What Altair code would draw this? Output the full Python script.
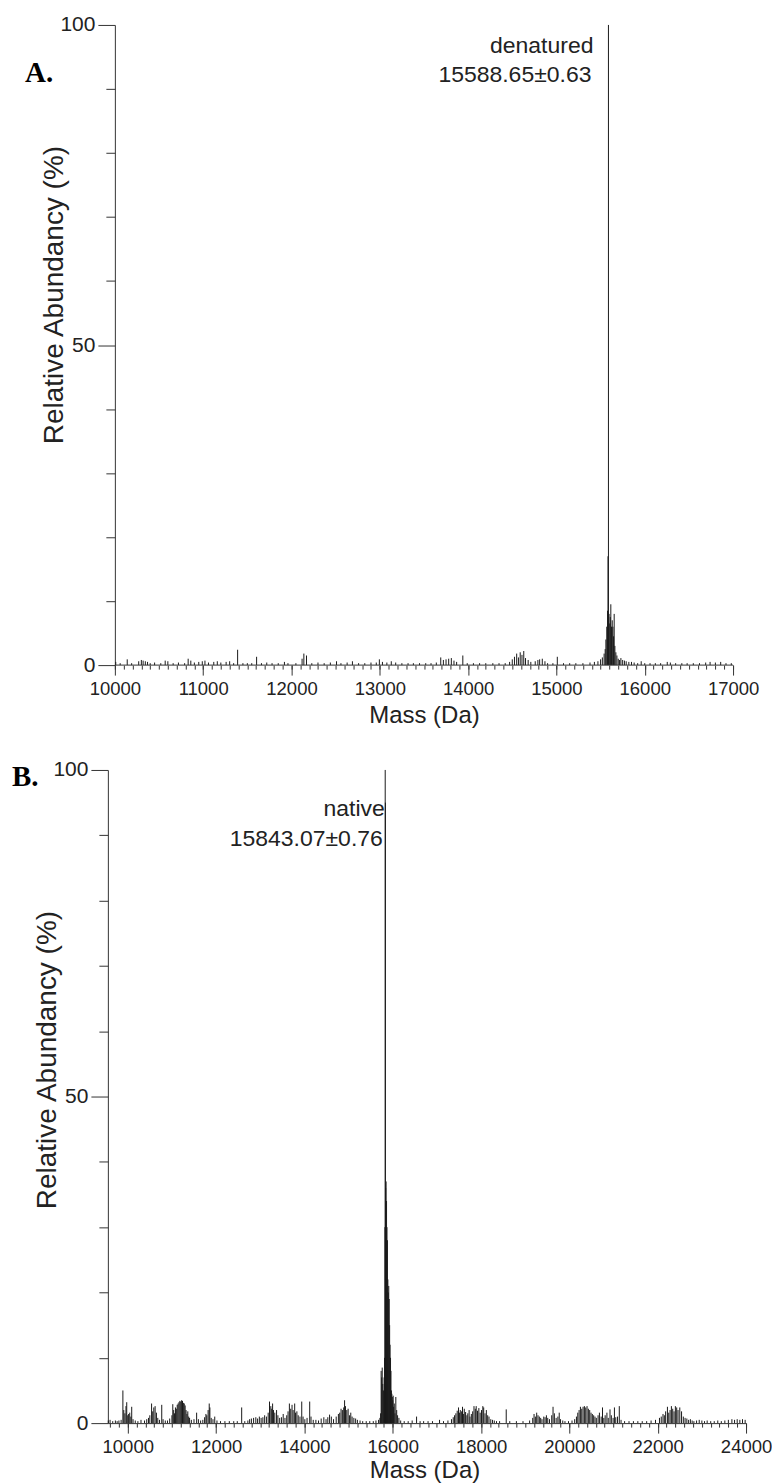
import altair as alt
import pandas as pd

# ---------------- data ----------------
A_MASS = [10010, 10060, 10140, 10190, 10270, 10300, 10320, 10345, 10370, 10400, 10450, 10520, 10570,
          10600, 10660, 10720, 10790, 10830, 10860, 10900, 10950, 10990, 11020, 11060, 11120, 11160,
          11200, 11260, 11300, 11345, 11390, 11450, 11500, 11550, 11605, 11660, 11720, 11780, 11850,
          11920, 11960, 12050, 12120, 12140, 12170, 12230, 12300, 12370, 12440, 12510, 12560, 12630,
          12690, 12760, 12830, 12900, 12960, 12995, 13030, 13080, 13130, 13180, 13250, 13320, 13380,
          13450, 13520, 13580, 13640, 13690, 13720, 13750, 13780, 13810, 13840, 13870, 13940, 13990,
          14060, 14130, 14200, 14280, 14350, 14420, 14470, 14500, 14525, 14550, 14570, 14590, 14610,
          14630, 14650, 14680, 14710, 14760, 14790, 14810, 14840, 14870, 14900, 14960, 15010, 15080,
          15150, 15220, 15300, 15380, 15430, 15470, 15500, 15520, 15540, 15552, 15560, 15570, 15579,
          15584, 15589, 15596, 15604, 15610, 15616, 15624, 15632, 15640, 15647, 15654, 15662, 15673,
          15685, 15700, 15715, 15730, 15750, 15770, 15790, 15820, 15850, 15880, 15920, 15960, 16000,
          16060, 16120, 16180, 16255, 16290, 16350, 16420, 16480, 16550, 16620, 16690, 16740, 16800,
          16860, 16920, 16980]
A_ABUND = [0.5, 0.3, 0.9, 0.3, 0.6, 0.8, 0.7, 0.6, 0.5, 0.3, 0.4, 0.3, 0.7,
           0.6, 0.3, 0.4, 0.3, 1.0, 0.7, 0.4, 0.5, 0.6, 0.7, 0.4, 0.5, 0.6,
           0.4, 0.5, 0.6, 0.3, 2.4, 0.3, 0.3, 0.3, 1.3, 0.3, 0.4, 0.3, 0.3,
           0.5, 0.3, 0.3, 1.0, 1.8, 1.5, 0.3, 0.4, 0.3, 0.4, 0.6, 0.3, 0.4,
           0.6, 0.3, 0.3, 0.4, 0.4, 0.9, 0.5, 0.4, 0.6, 0.4, 0.3, 0.3, 0.3,
           0.3, 0.3, 0.3, 0.4, 1.2, 0.8, 0.9, 1.0, 1.1, 0.7, 0.5, 1.5, 0.3,
           0.3, 0.3, 0.3, 0.3, 0.3, 0.3, 0.5, 0.9, 1.3, 1.8, 1.2, 2.0, 1.6,
           2.2, 1.1, 0.8, 0.5, 0.6, 0.8, 0.9, 1.0, 0.6, 0.3, 0.3, 1.3, 0.3,
           0.3, 0.3, 0.3, 0.4, 0.5, 0.6, 0.9, 1.2, 1.8, 2.5, 4.0, 6.0, 8.5,
           17.0, 100.0, 8.0, 6.5, 7.5, 9.5, 6.0, 7.0, 6.0, 4.5, 8.0, 3.0, 2.0,
           1.5, 1.0, 0.8, 1.1, 0.8, 0.7, 0.6, 0.5, 0.5, 0.4, 0.3, 0.6, 0.3,
           0.3, 0.3, 0.3, 0.5, 0.4, 0.3, 0.3, 0.3, 0.3, 0.3, 0.4, 0.5, 0.4,
           0.5, 0.3, 0.3]

B_MASS = [9560, 9600, 9660, 9720, 9760, 9800, 9850, 9890, 9910, 9935, 9960, 9977, 10000, 10020, 10045,
          10070, 10090, 10120, 10170, 10230, 10300, 10380, 10430, 10470, 10500, 10540, 10565, 10590,
          10620, 10650, 10680, 10720, 10770, 10800, 10850, 10900, 10950, 11000, 11020, 11040, 11060,
          11080, 11100, 11120, 11140, 11160, 11180, 11200, 11220, 11240, 11260, 11280, 11300, 11320,
          11340, 11360, 11380, 11400, 11440, 11500, 11560, 11600, 11650, 11700, 11740, 11770, 11790,
          11820, 11845, 11860, 11890, 11930, 11970, 12020, 12100, 12200, 12300, 12400, 12480, 12580,
          12650, 12720, 12760, 12800, 12850, 12900, 12940, 12980, 13020, 13060, 13100, 13140, 13180,
          13210, 13240, 13260, 13280, 13300, 13330, 13370, 13400, 13440, 13480, 13520, 13560, 13600,
          13630, 13660, 13690, 13720, 13745, 13780, 13800, 13830, 13860, 13900, 13940, 13970, 14010,
          14060, 14120, 14150, 14200, 14260, 14320, 14380, 14440, 14490, 14530, 14570, 14610, 14660,
          14720, 14770, 14800, 14830, 14860, 14890, 14910, 14930, 14960, 14990, 15020, 15050, 15080,
          15120, 15160, 15200, 15260, 15320, 15400, 15480, 15560, 15620, 15680, 15710, 15725, 15738,
          15750, 15762, 15775, 15790, 15805, 15815, 15824, 15830, 15834, 15840, 15850, 15860, 15870,
          15880, 15890, 15900, 15910, 15920, 15930, 15940, 15950, 15960, 15970, 15980, 15990, 16000,
          16010, 16020, 16035, 16050, 16070, 16090, 16110, 16140, 16180, 16260, 16350, 16440,
          16540, 16620, 16700, 16800, 16900, 17060, 17150, 17250, 17330, 17370, 17400, 17430, 17460,
          17490, 17510, 17530, 17560, 17580, 17600, 17620, 17650, 17680, 17700, 17730, 17750, 17780,
          17810, 17840, 17870, 17890, 17920, 17950, 17980, 18010, 18040, 18060, 18090, 18120, 18150,
          18180, 18220, 18260, 18300, 18350, 18420, 18570, 18650, 18800, 18950, 19100, 19170, 19200,
          19230, 19260, 19290, 19320, 19350, 19380, 19420, 19450, 19480, 19510, 19550, 19600, 19630,
          19660, 19700, 19740, 19770, 19800, 19850, 19900, 19980, 20060, 20120, 20160, 20190, 20220,
          20250, 20280, 20310, 20340, 20370, 20400, 20430, 20460, 20490, 20520, 20550, 20580, 20610,
          20650, 20680, 20720, 20750, 20780, 20810, 20850, 20880, 20920, 20950, 20990, 21020, 21050,
          21090, 21130, 21170, 21250, 21350, 21450, 21550, 21650, 21750, 21850, 21950, 22040, 22080,
          22120, 22150, 22180, 22220, 22250, 22280, 22310, 22340, 22370, 22400, 22430, 22460, 22500,
          22540, 22580, 22620, 22660, 22700, 22740, 22780, 22820, 22880, 22940, 23000, 23060, 23120,
          23200, 23280, 23360, 23440, 23520, 23600, 23680, 23740, 23800, 23860, 23920, 23980]
B_ABUND = [0.4, 0.5, 0.3, 0.4, 0.3, 0.4, 0.5, 5.0, 2.0, 1.5, 2.6, 3.2, 1.2, 1.4, 1.6,
           1.0, 2.5, 0.6, 0.4, 0.3, 0.5, 0.4, 0.6, 0.8, 1.2, 3.0, 1.8, 2.4,
           2.6, 1.6, 0.8, 0.5, 2.8, 0.6, 0.4, 0.4, 0.7, 1.2, 2.9, 2.0, 1.5,
           2.4, 2.2, 2.8, 3.0, 3.2, 3.4, 3.3, 3.5, 3.4, 3.1, 3.0, 2.7, 2.0,
           1.4, 1.8, 1.0, 0.8, 0.5, 0.6, 1.6, 0.6, 0.4, 0.5, 0.9, 1.4, 1.2,
           2.0, 3.0, 2.4, 0.8, 0.6, 1.0, 0.4, 0.3, 0.3, 0.3, 0.3, 0.3, 2.4,
           0.3, 0.4, 0.6, 0.7, 0.8, 0.9, 0.7, 1.0, 0.8, 0.9, 1.2, 1.0, 1.6,
           3.3, 2.6, 2.2, 3.0, 2.0, 1.6, 2.0, 1.2, 0.8, 0.9, 1.4, 0.8, 1.2,
           1.8, 3.0, 2.2, 2.8, 2.0, 3.0, 1.6, 1.8, 1.2, 1.0, 3.3, 1.0, 0.6,
           0.8, 3.3, 1.0, 0.5, 0.5, 0.4, 0.7, 0.9, 0.6, 0.9, 1.3, 1.0, 0.6,
           1.0, 1.4, 1.6, 2.2, 2.0, 2.4, 3.5, 2.6, 2.0, 2.2, 1.2, 1.6, 1.0,
           0.8, 0.7, 0.5, 0.4, 0.3, 0.3, 0.3, 0.3, 0.4, 0.5, 0.8, 1.5, 8.0,
           7.0, 8.5, 6.0, 5.0, 7.0, 10.0, 30.0, 100.0, 95.0, 36.0, 37.0, 34.0, 30.0,
           28.0, 22.0, 20.0, 21.0, 19.0, 15.0, 12.0, 10.0, 8.0, 5.0, 4.5, 4.0, 3.5,
           4.2, 2.5, 3.0, 1.5, 4.0, 2.0, 1.2, 0.8, 0.4, 0.3, 0.3, 0.4,
           1.0, 0.3, 0.3, 0.3, 0.3, 0.5, 0.3, 0.4, 0.6, 0.9, 1.2, 1.5, 1.9,
           2.4, 1.6, 2.0, 1.8, 2.5, 1.4, 2.2, 1.7, 1.2, 1.5, 2.0, 1.0, 1.4,
           1.8, 2.6, 2.2, 2.6, 1.9, 2.3, 1.6, 2.0, 2.6, 2.4, 1.5, 2.0, 1.2,
           1.0, 0.6, 0.5, 0.4, 0.3, 0.3, 2.1, 0.3, 0.3, 0.3, 0.4, 0.8, 1.4,
           1.0, 1.6, 1.2, 1.0, 0.8, 0.6, 1.0, 0.9, 1.2, 0.8, 0.6, 1.2, 2.5,
           1.5, 0.8, 1.0, 1.6, 0.6, 0.4, 0.3, 0.3, 0.4, 0.6, 1.0, 1.6, 2.0,
           2.5, 2.2, 2.5, 2.6, 2.4, 2.6, 2.2, 2.0, 1.6, 1.4, 1.2, 1.0, 0.8,
           1.2, 1.6, 1.0, 2.4, 0.8, 1.2, 1.6, 0.8, 2.1, 1.2, 0.8, 2.4, 0.9,
           1.0, 2.6, 0.5, 0.3, 0.3, 0.3, 0.3, 0.3, 0.3, 0.4, 0.5, 0.8, 1.0,
           1.4, 1.2, 1.8, 2.5, 1.6, 2.0, 2.6, 2.2, 1.8, 2.6, 2.4, 2.0, 2.4,
           1.8, 1.0, 0.8, 0.7, 0.5, 0.6, 0.4, 0.3, 0.4, 0.5, 0.4, 0.3, 0.4,
           0.3, 0.3, 0.4, 0.3, 0.4, 0.5, 0.6, 0.5, 0.6, 0.5, 0.6, 0.5]

A_XTICKS = [10000, 11000, 12000, 13000, 14000, 15000, 16000, 17000]
A_XMINOR = list(range(10000, 17001, 100))
B_XTICKS = [10000, 12000, 14000, 16000, 18000, 20000, 22000, 24000]
B_XMINOR = list(range(9600, 24001, 200))
Y_TICKS = [0, 50, 100]
Y_MINOR = [10, 20, 30, 40, 60, 70, 80, 90]

A_NOTE = ["denatured", "15588.65±0.63"]
B_NOTE = ["native", "15843.07±0.76"]
A_PEAK = 15588.65
B_PEAK = 15843.07
A_TAG = "A."
B_TAG = "B."
X_TITLE = "Mass (Da)"
Y_TITLE = "Relative Abundancy (%)"

FONT = "Liberation Sans"
INK = "#1a1a1a"
AXC = "#333333"
TXT = "#222222"


def panel(mass, abund, dom, xt, xm, w, h, yoff, title_x, title_y_x, title_y_y, xtitle_y,
          notes, note_levels, note_dx, peak, tag, tag_x, tag_y, baseline=None):
    df = pd.DataFrame({"mass": mass, "abund": abund})
    xs = alt.Scale(domain=dom, nice=False, zero=False)
    ys = alt.Scale(domain=[0, 100], nice=False, zero=False)

    sticks = alt.Chart(df).mark_rule(color=INK, strokeWidth=1).encode(
        x=alt.X("mass:Q", scale=xs, axis=alt.Axis(
            orient="bottom", values=xt, format="d", tickSize=10, labelFontSize=18.5,
            labelPadding=4, labelFlush=False, domain=baseline is None, title=X_TITLE,
            titleFontSize=24, titleX=title_x, titleY=xtitle_y, titleBaseline="alphabetic",
            titleAlign="center")),
        y=alt.Y("abund:Q", scale=ys, axis=alt.Axis(
            orient="left", values=Y_TICKS, format="d", tickSize=17, labelFontSize=21,
            labelPadding=3, offset=yoff, title=Y_TITLE, titleFontSize=28, titleAngle=270,
            titleX=title_y_x, titleY=title_y_y, titleBaseline="alphabetic", titleAlign="center")),
        y2=alt.datum(0),
    )
    minor = alt.Chart(df).mark_point(opacity=0).encode(
        x=alt.X("mass:Q", scale=xs, axis=alt.Axis(
            orient="bottom", values=xm, tickSize=4, labels=False, domain=False, title=None)),
        y=alt.Y("abund:Q", scale=ys, axis=alt.Axis(
            orient="left", values=Y_MINOR, tickSize=9, labels=False, domain=False,
            offset=yoff, title=None)),
    )
    layers = [sticks, minor]
    for txt, lvl, dx in zip(notes, note_levels, note_dx):
        layers.append(
            alt.Chart(pd.DataFrame({"t": [txt]})).mark_text(
                font=FONT, fontSize=23, color=TXT, align="right", baseline="alphabetic", dx=dx
            ).encode(
                text="t:N",
                x=alt.XDatum(peak, axis=None),
                y=alt.YDatum(lvl, axis=None),
            )
        )
    layers.append(
        alt.Chart(pd.DataFrame({"t": [tag]})).mark_text(
            font="Liberation Serif", fontSize=29, fontWeight="bold", color="#000000",
            align="left", baseline="alphabetic"
        ).encode(text="t:N", x=alt.value(tag_x), y=alt.value(tag_y))
    )
    if baseline is not None:
        layers.append(
            alt.Chart(pd.DataFrame({"a": [baseline[0]], "b": [baseline[1]]})).mark_rule(
                color=AXC, strokeWidth=1
            ).encode(
                x=alt.X("a:Q", axis=None),
                x2="b:Q",
                y=alt.YDatum(0, axis=None),
            )
        )
    return alt.layer(*layers).resolve_axis(x="independent", y="independent").properties(
        width=w, height=h)


# panel A: plot area 108..734 (axis drawn at 10000 -> 115), 25..666
panel_a = panel(A_MASS, A_ABUND, [9920.8, 17000], A_XTICKS, A_XMINOR, 626, 641, -7,
                316.5, -52, 270, 57,
                A_NOTE, [95.6, 91.1], [-15, -17], A_PEAK, A_TAG, -83, 57,
                baseline=[10000, 17000])
# panel B: plot area 108..747, 769..1423
panel_b = panel(B_MASS, B_ABUND, [9550, 24000], B_XTICKS, B_XMINOR, 639, 654, 0,
                317, -52, 290, 54,
                B_NOTE, [93.0, 88.4], [-1, -3], B_PEAK, B_TAG, -96, 16)

chart = alt.vconcat(panel_a, panel_b, spacing=32).properties(
    padding={"left": 4, "top": 5, "right": 0, "bottom": 0}
).configure_axis(
    grid=False, domainColor=AXC, tickColor=AXC, domainWidth=1, tickWidth=1,
    labelColor=TXT, titleColor=TXT, labelFont=FONT, titleFont=FONT, titleFontWeight="normal"
).configure_view(stroke=None)

chart.save("out.html", embed_options={"renderer": "svg", "actions": False})
